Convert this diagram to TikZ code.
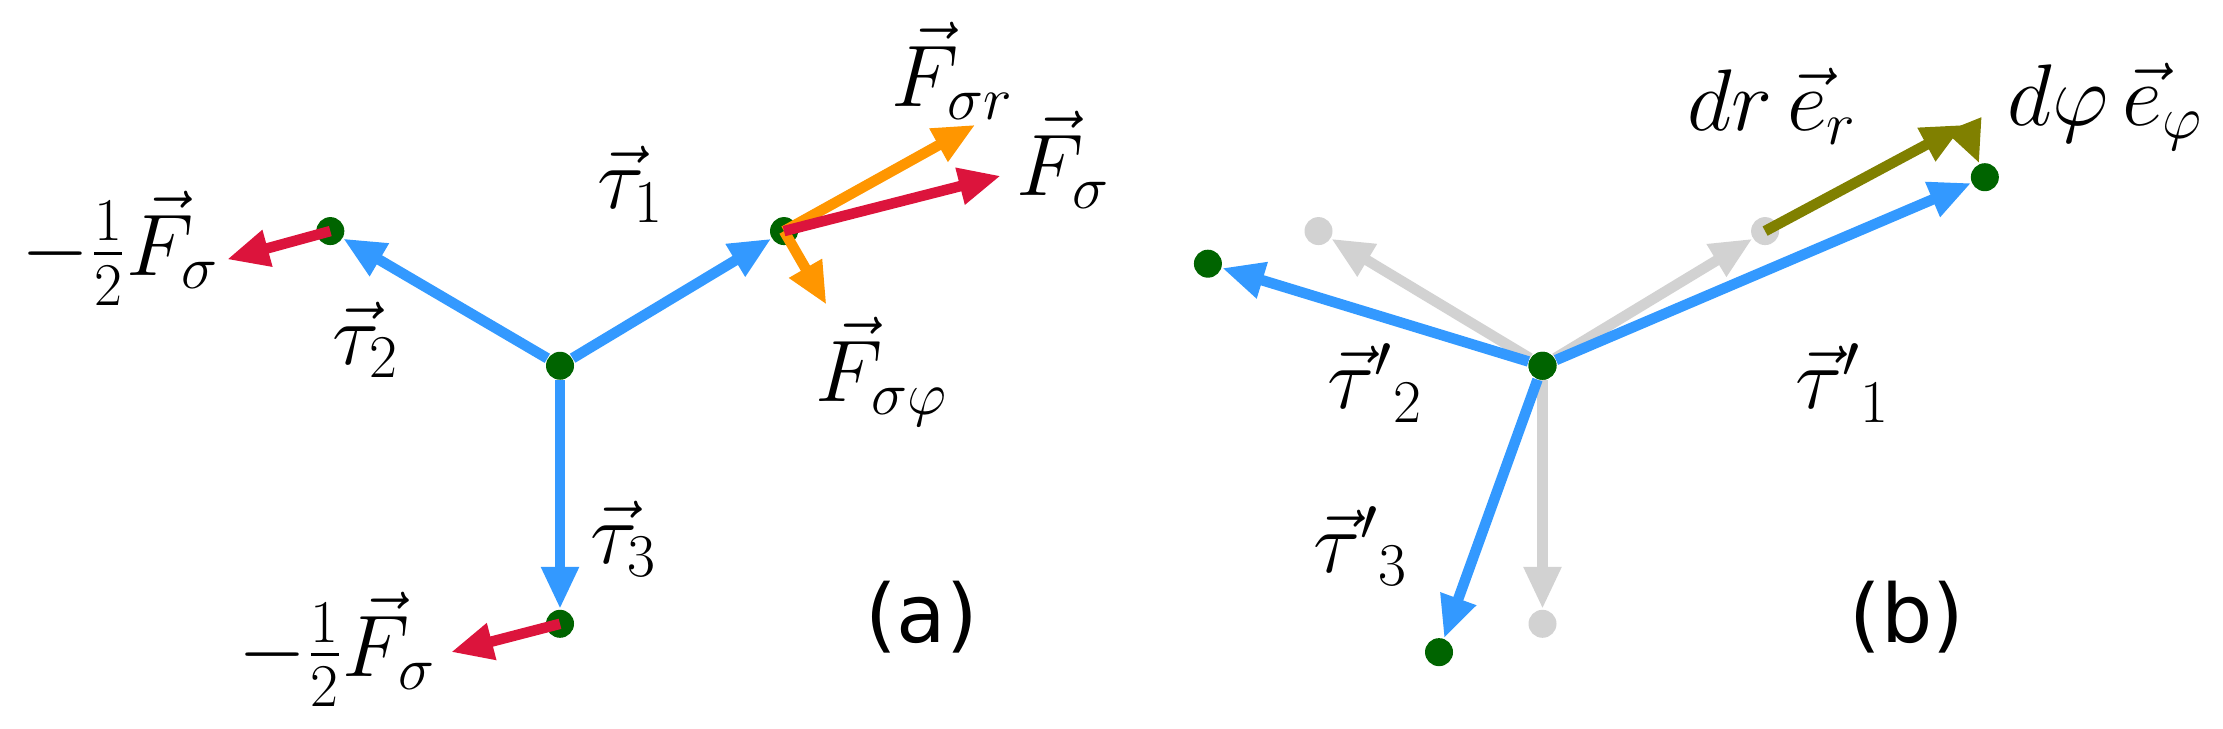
\documentclass[tikz,border=0pt]{standalone}
\usepackage{amsmath,amssymb}
\usepackage{fontspec}
\setmainfont{DejaVu Sans}
\usetikzlibrary{arrows.meta}
\definecolor{vblue}{RGB}{51,153,255}
\definecolor{vred}{RGB}{220,20,60}
\definecolor{vorange}{RGB}{255,150,0}
\definecolor{volive}{RGB}{128,128,0}
\definecolor{vgreen}{RGB}{0,100,0}
\definecolor{vgray}{RGB}{210,210,210}
\begin{document}
\begin{tikzpicture}
	[x=0.01418cm,y=-0.01418cm,
	vec/.style={line width=3pt,-{Triangle[length=12pt,width=10pt]}},
	dot/.style={circle,fill=vgreen,inner sep=0pt,minimum size=0.28cm},
	gdot/.style={circle,fill=vgray,inner sep=0pt,minimum size=0.28cm},
	lab/.style={font=\fontsize{23}{26}\selectfont}]
	\useasboundingbox (0,0) rectangle (1568,514);
	% panel (a)
	\node[dot] (c) at (395,258) {};
	\node[dot] (a1) at (553,163) {};
	\node[dot] (a2) at (233,163) {};
	\node[dot] (a3) at (395,440) {};
	\coordinate (r2) at (160,183);
	\coordinate (r3) at (318,460);
	\coordinate (rs) at (706,124);
	\coordinate (or) at (688,88);
	\coordinate (op) at (583,215);
	\foreach \to in {a1,a2,a3}
	\draw[vec,vblue] (c) -- (\to);
	\draw[vec,vred] (a2.center) -- (r2);
	\draw[vec,vred] (a3.center) -- (r3);
	\draw[vec,vorange] (a1.center) -- (or);
	\draw[vec,vorange] (a1.center) -- (op);
	\draw[vec,vred] (a1.center) -- (rs);
	\node[lab] (l1) at (85,175) {$-\frac{1}{2}\vec F_\sigma$};
	\node[lab] (l2) at (238,458) {$-\frac{1}{2}\vec F_\sigma$};
	\node[lab] (t1) at (445,130) {$\vec\tau_1$};
	\node[lab] (t2) at (258,240) {$\vec\tau_2$};
	\node[lab] (t3) at (440,380) {$\vec\tau_3$};
	\node[lab] (fr) at (672,50) {$\vec F_{\sigma r}$};
	\node[lab] (fs) at (750,113) {$\vec F_\sigma$};
	\node[lab] (fp) at (622,262) {$\vec F_{\sigma\varphi}$};
	\node[lab] (pa) at (650,435) {(a)};
	% panel (b)
	\node[dot] (d) at (1088,258) {};
	\node[gdot] (g1) at (1245,163) {};
	\node[gdot] (g2) at (930,163) {};
	\node[gdot] (g3) at (1088,440) {};
	\foreach \to in {g1,g2,g3}
	\draw[vec,vgray] (d) -- (\to);
	\node[dot] (b1) at (1400,125) {};
	\node[dot] (b2) at (852,186) {};
	\node[dot] (b3) at (1015,460) {};
	\foreach \to in {b1,b2,b3}
	\draw[vec,vblue] (d) -- (\to);
	\node[dot] at (d) {};
	\coordinate (e1) at (1385,88);
	\draw[vec,volive] (g1.center) -- (e1);
	\draw[vec,volive] (e1) -- (b1);
	\node[lab] (le) at (1250,75) {$dr\,\vec e_r$};
	\node[lab] (lp) at (1485,75) {$d\varphi\,\vec e_\varphi$};
	\node[lab] (s1) at (1300,270) {$\vec\tau'{}_1$};
	\node[lab] (s2) at (970,270) {$\vec\tau'{}_2$};
	\node[lab] (s3) at (960,385) {$\vec\tau'{}_3$};
	\node[lab] (pb) at (1345,435) {(b)};
\end{tikzpicture}
\end{document}
